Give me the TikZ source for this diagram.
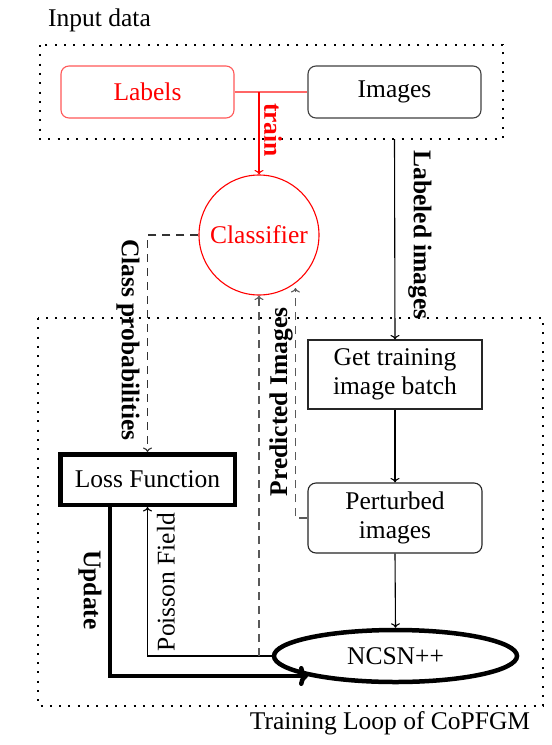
\documentclass[tikz,border=0pt]{standalone}
\usepackage{fontspec}
\setmainfont{Liberation Serif}
\usetikzlibrary{shapes.geometric,calc,arrows.meta}
\begin{document}
\begin{tikzpicture}[x=1pt,y=-1pt,
  every node/.style={font=\fontsize{25.5}{28.5}\selectfont, inner sep=0pt},
  thinline/.style={line width=1.1pt},
  arr/.style={thinline,-{To[length=4.5pt,width=9pt]}},
  dotbox/.style={line width=2.2pt, dash pattern=on 2pt off 7.3pt},
  dashline/.style={thinline, dash pattern=on 8pt off 6pt},
  boxa/.style={draw, thinline, minimum width=173pt, minimum height=52pt, align=center},
  rlabel/.style={font=\fontsize{25.5}{28.5}\selectfont\bfseries},
]
\useasboundingbox (0,0) rectangle (552,745);
\fill[white] (0,0) rectangle (552,745);

% containers
\draw[dotbox] (40,45) coordinate (inNW) rectangle (503,139) coordinate (inSE);
\draw[dotbox] (38,318) rectangle (543,706);
\node[anchor=west] (indata) at (48,20) {Input data};
\node (trainloop) at (390,723) {Training Loop of CoPFGM};

% nodes
\node[boxa, rounded corners=8pt, draw=red!65, text=red] (labels) at (147.5,92) {Labels};
\node[boxa, rounded corners=8pt, draw=black!75] (images) at (394.5,92) {Images};
\node[circle, draw=red, thinline, text=red, minimum size=120pt] (classifier) at (259,235) {Classifier};
\node[boxa, minimum width=174pt, minimum height=69pt, draw=black!85] (gettrain) at (395,374.5) {Get training\\image batch};
\node[boxa, rounded corners=8pt, minimum width=174pt, minimum height=70pt, draw=black!85] (perturbed) at (395,518) {Perturbed\\images};
\node[ellipse, draw, line width=4.5pt, minimum width=243pt, minimum height=52pt] (ncsn) at (395.5,656) {NCSN++};
\node[draw, line width=4.5pt, minimum width=174.5pt, minimum height=50.5pt] (loss) at (147.5,479.5) {Loss Function};

% connectors
\draw[thinline, red!60] (labels.east) -- (images.west);
\draw[arr, red] (labels.east -| classifier.north) -- (classifier.north);
\draw[arr] (inSE -| images.south) -- (gettrain.north);
\draw[arr] (gettrain.south) -- (perturbed.north);
\draw[arr] (perturbed.south) -- (ncsn.north);
\draw[dashline, black!80, -{To[length=4.5pt,width=9pt]}] (classifier.west) -| (loss.north);
\draw[line width=4.5pt, -{To[length=9pt,width=20pt]}] ($(loss.south)+(-37.5,0)$) |- (ncsn.south west);
\draw[arr] (ncsn.west) -| (loss.south);
\draw[dashline, black!65, -{To[length=4.5pt,width=9pt]}] (ncsn.west -| classifier.south) -- (classifier.south);
\draw[dashline, black!65, -{To[length=4.5pt,width=9pt]}] (perturbed.west) -- ++(-12,0) coordinate (pk) -- (pk |- 0,288);

% labels
\node[rlabel, text=red, rotate=-90] (trainlbl) at (273,130) {train};
\node[rlabel, rotate=-90] (labimg) at (420,235) {Labeled images};
\node[rlabel, rotate=-90] (classprob) at (128,340) {Class probabilities};
\node[rlabel, rotate=90] (predimg) at (281,402) {Predicted Images};
\node[rlabel, rotate=-90] (update) at (90,590) {Update};
\node[rotate=90] (poisson) at (166,582) {Poisson Field};
\end{tikzpicture}
\end{document}
